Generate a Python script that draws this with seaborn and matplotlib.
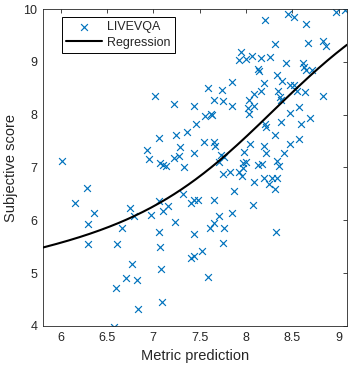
import numpy as np
import pandas as pd
import matplotlib
matplotlib.use("Agg")
import matplotlib.pyplot as plt
import seaborn as sns

# ==========================================
# data
# ==========================================
metric_pred = [
    6.01, 6.29, 6.15, 6.36, 6.30, 6.30, 6.75, 6.79, 6.66, 6.61, 6.77, 6.71, 6.82, 6.60, 6.84, 6.58,
    6.93, 6.95, 7.02, 7.22, 7.44, 7.06, 7.25, 7.36, 7.46, 7.29, 7.22, 7.28, 7.44, 7.07, 7.10,
    7.14, 7.33, 7.06, 7.10, 7.16, 6.97, 7.23, 7.32, 7.06, 7.07, 7.08, 7.09, 7.41, 7.44, 7.48,
    7.44, 7.41, 7.44, 7.53, 7.59,
    7.55, 7.65, 7.67, 7.56, 7.62, 7.63, 7.59, 7.66, 7.75, 7.74, 7.85, 7.85, 7.95, 7.92, 8.00,
    7.73, 7.76, 7.71, 7.65, 7.71, 7.66, 7.61, 7.76, 7.75, 7.85, 7.87, 7.75, 7.83, 7.98, 7.97,
    8.00, 7.97, 7.96, 7.93,
    8.03, 8.09, 8.16, 8.19, 8.09, 8.02, 8.03, 8.13, 8.14, 8.06, 8.16, 8.26, 8.20, 8.31, 8.34,
    8.39, 8.43, 8.45, 8.52, 8.65, 8.97, 9.07, 8.67, 8.83, 8.86, 8.61, 8.63, 8.65, 8.71, 8.48,
    8.52, 8.35, 8.37, 8.38, 8.55, 8.64, 8.83, 8.47, 8.57, 8.69, 8.38, 8.21, 8.22, 8.59, 8.31,
    8.04, 8.19, 8.22, 8.47, 8.57, 8.41, 8.34, 8.36, 8.13, 8.17, 8.09, 8.19, 8.28, 8.33, 8.25,
    8.31, 8.08, 8.32,
]
subj_score = [
    7.13, 6.61, 6.32, 6.13, 5.94, 5.55, 6.24, 6.09, 5.85, 5.55, 5.17, 4.90, 4.87, 4.72, 4.32, 3.99,
    7.33, 7.16, 8.35, 8.21, 8.17, 7.56, 7.61, 7.67, 7.82, 7.39, 7.18, 7.22, 7.28, 7.09, 7.04,
    7.03, 7.00, 6.37, 6.17, 6.27, 6.10, 5.96, 6.49, 5.77, 5.49, 5.07, 4.45, 6.32, 6.38, 6.38,
    5.75, 5.28, 5.32, 5.42, 4.92,
    7.48, 7.48, 7.41, 7.97, 8.01, 7.99, 8.50, 8.28, 8.26, 8.47, 8.61, 8.16, 9.19, 9.03, 9.05,
    7.23, 7.19, 7.11, 6.38, 6.08, 5.95, 5.85, 5.85, 5.58, 6.13, 6.55, 6.87, 6.91, 7.29, 7.08,
    7.10, 6.99, 6.84, 6.91,
    8.28, 8.39, 8.45, 8.59, 8.16, 8.12, 8.02, 8.86, 8.83, 9.11, 9.07, 9.09, 9.80, 9.33, 8.76,
    8.64, 8.98, 9.91, 9.84, 9.71, 9.95, 9.99, 9.35, 9.39, 9.30, 8.97, 8.91, 8.85, 8.85, 8.57,
    8.57, 8.45, 8.34, 8.28, 8.45, 8.42, 8.36, 8.04, 8.14, 7.93, 7.87, 7.82, 7.77, 7.82, 7.61,
    7.44, 7.41, 7.28, 7.45, 7.53, 7.28, 7.13, 7.03, 7.05, 7.06, 6.72, 6.81, 6.81, 6.80, 6.69,
    6.59, 6.29, 5.77,
]

# logistic + linear regression curve (parameters)
reg_a, reg_lin, reg_h, reg_c, reg_s = 3.634, 0.30, 3.92, 8.30, 0.70
x_min, x_max = 5.81, 9.09
y_min, y_max = 4, 10
x_ticks = [6, 6.5, 7, 7.5, 8, 8.5, 9]
y_ticks = [4, 5, 6, 7, 8, 9, 10]

df = pd.DataFrame({"pred": metric_pred, "score": subj_score})
xr = np.linspace(x_min, x_max, 300)
reg = pd.DataFrame({"pred": xr,
                    "score": reg_a + reg_lin * xr + reg_h / (1 + np.exp(-(xr - reg_c) / reg_s))})

# ==========================================
# plot
# ==========================================
sns.set_style("white")
plt.rcParams["font.family"] = ["Liberation Sans", "DejaVu Sans"]

fig = plt.figure(figsize=(3.51, 3.73), dpi=100)
ax = fig.add_axes([43 / 351, 1 - 326 / 373, 304 / 351, 317 / 373])

sns.scatterplot(data=df, x="pred", y="score", marker="x", color="#0072BD",
                s=24, linewidth=0.85, ax=ax, label="LIVEVQA", zorder=2)
sns.lineplot(data=reg, x="pred", y="score", color="black", linewidth=1.5,
             ax=ax, label="Regression", zorder=3)

ax.set_xlim(x_min, x_max)
ax.set_ylim(y_min, y_max)
ax.set_xticks(x_ticks)
ax.set_xticklabels([f"{t:g}" for t in x_ticks])
ax.set_yticks(y_ticks)
ax.set_xlabel("Metric prediction", fontsize=10.5, color="#262626")
ax.set_ylabel("Subjective score", fontsize=10.5, color="#262626")
ax.tick_params(direction="in", length=3, width=0.6, top=True, right=True,
               labelsize=9, colors="#262626", pad=4)
for sp in ax.spines.values():
    sp.set_visible(True)
    sp.set_color("#262626")
    sp.set_linewidth(0.6)

leg = ax.legend(loc="upper left", bbox_to_anchor=(0.0615, 0.976), borderaxespad=0,
                fontsize=9, handlelength=2.9, handletextpad=0.4, fancybox=False,
                framealpha=1, edgecolor="black", borderpad=0.35, labelspacing=0.3)
leg.get_frame().set_linewidth(0.7)

fig.savefig("out.png", dpi=100)
